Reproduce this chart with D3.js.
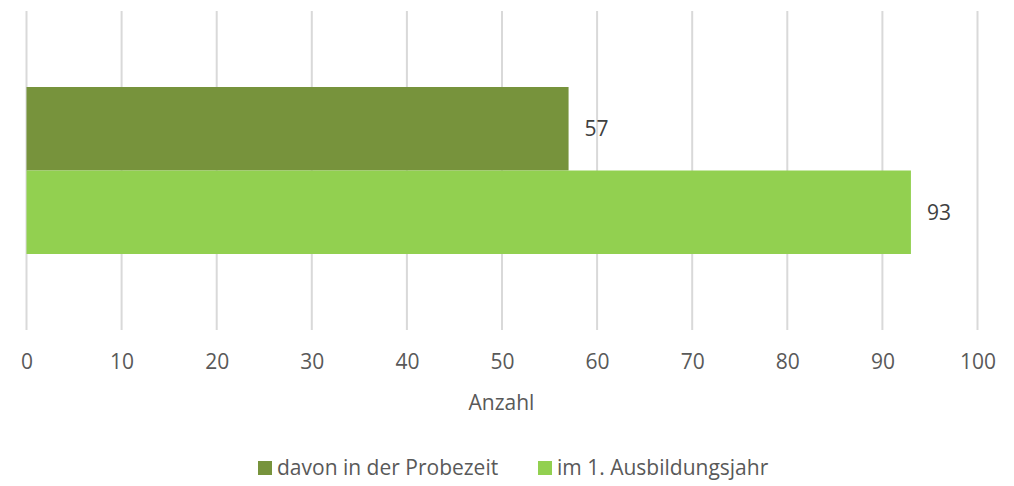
<!DOCTYPE html>
<html>
<head>
<meta charset="utf-8">
<script src="https://cdn.jsdelivr.net/npm/d3@7"></script>
<style>
  body { margin: 0; background: #fff; }
  svg text { font-family: "Open Sans", sans-serif; }
</style>
</head>
<body>
<div id="chart"></div>
<script>
'use strict';
var seriesNames = ['davon in der Probezeit', 'im 1. Ausbildungsjahr'];
var seriesValues = [57, 93];
var seriesColors = ['#77933c', '#92d050'];
var xTicks = [0, 10, 20, 30, 40, 50, 60, 70, 80, 90, 100];
var axisTitle = 'Anzahl';

var width = 1014, height = 486;
var margin = {top: 11, right: 37, bottom: 156, left: 26};
var plotW = width - margin.left - margin.right;
var plotH = height - margin.top - margin.bottom;

var svg = d3.select('#chart').append('svg')
    .attr('width', width)
    .attr('height', height);

var g = svg.append('g')
    .attr('transform', 'translate(' + margin.left + ',' + margin.top + ')');

var xScale = d3.scaleLinear().domain([0, 100]).range([0.5, plotW + 0.5]);

// Category band holds both bars stacked side by side.
var yScale = d3.scaleBand()
    .domain(seriesNames)
    .range([76, 243]);

// Gridlines.
g.selectAll('line.grid')
    .data(xTicks)
    .enter()
    .append('line')
    .attr('x1', function(d) { return xScale(d); })
    .attr('x2', function(d) { return xScale(d); })
    .attr('y1', 0)
    .attr('y2', plotH)
    .attr('stroke', '#d9d9d9')
    .attr('stroke-width', 2);

// Tick labels.
var xAxis = d3.axisBottom(xScale).tickValues(xTicks).tickSize(0).tickPadding(24);
var axisG = g.append('g')
    .attr('transform', 'translate(0,' + plotH + ')')
    .call(xAxis);
axisG.select('.domain').remove();
axisG.selectAll('text')
    .attr('fill', '#595959')
    .style('font-size', '21px');

g.append('text')
    .attr('x', plotW / 2)
    .attr('y', plotH + 80)
    .attr('text-anchor', 'middle')
    .attr('fill', '#595959')
    .style('font-size', '21px')
    .text(axisTitle);

// Bars.
g.selectAll('rect.bar')
    .data(seriesValues)
    .enter()
    .append('rect')
    .attr('x', xScale(0))
    .attr('y', function(d, i) { return yScale(seriesNames[i]); })
    .attr('width', function(d) { return xScale(d) - xScale(0); })
    .attr('height', yScale.bandwidth())
    .attr('fill', function(d, i) { return seriesColors[i]; });

// Value labels.
g.selectAll('text.val')
    .data(seriesValues)
    .enter()
    .append('text')
    .attr('x', function(d) { return xScale(d) + 16; })
    .attr('y', function(d, i) { return yScale(seriesNames[i]) + yScale.bandwidth() / 2; })
    .attr('dy', '0.35em')
    .attr('fill', '#404040')
    .style('font-size', '21px')
    .text(function(d) { return d; });

// Legend.
var legendX = [258, 538];
var legend = svg.selectAll('g.legend')
    .data(seriesNames)
    .enter()
    .append('g')
    .attr('transform', function(d, i) { return 'translate(' + legendX[i] + ',461)'; });
legend.append('rect')
    .attr('width', 14)
    .attr('height', 14)
    .attr('fill', function(d, i) { return seriesColors[i]; });
legend.append('text')
    .attr('x', 19)
    .attr('y', 7)
    .attr('dy', '0.35em')
    .attr('fill', '#595959')
    .style('font-size', '21px')
    .text(function(d) { return d; });
</script>
</body>
</html>
